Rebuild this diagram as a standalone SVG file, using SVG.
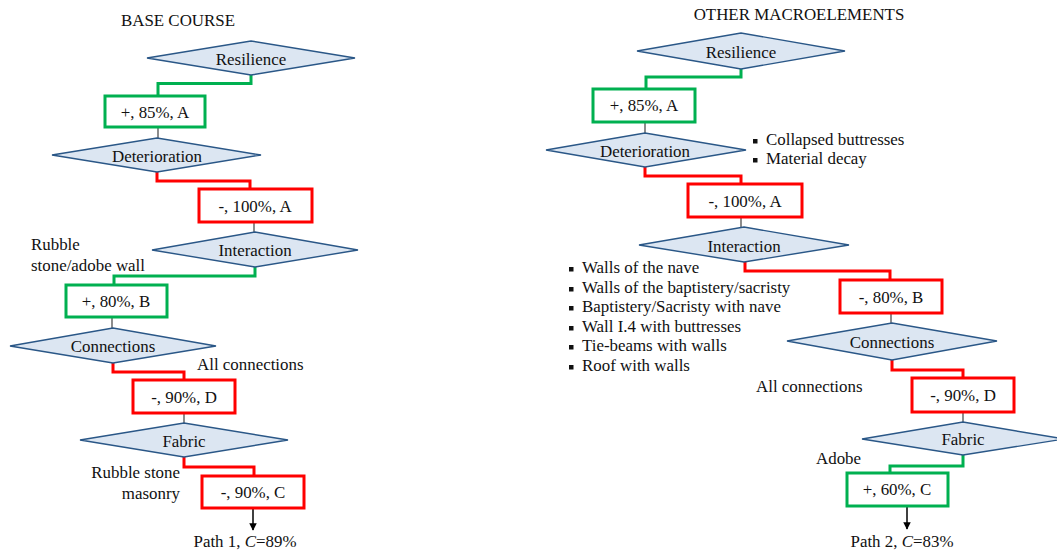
<svg xmlns="http://www.w3.org/2000/svg" width="1057" height="553" viewBox="0 0 1057 553">
<style>
text{font-family:"Liberation Serif","Times New Roman",serif;font-size:16.9px;fill:#111}
.c{text-anchor:middle}
.r{text-anchor:end}
.dia{fill:#DCE6F2;stroke:#2A5787;stroke-width:1.4}
.gb{fill:#fff;stroke:#00B050;stroke-width:3}
.rb{fill:#fff;stroke:#FF0000;stroke-width:3}
.gl{fill:none;stroke:#00B050;stroke-width:3}
.rl{fill:none;stroke:#FF0000;stroke-width:3}
.tl{fill:none;stroke:#404040;stroke-width:1.2}
.ar{fill:none;stroke:#000;stroke-width:1.5}
.bul{fill:#111}
</style>
<defs>
<marker id="ah" viewBox="0 0 10 10" refX="9" refY="5" markerWidth="5" markerHeight="5" orient="auto">
<path d="M0,0 L10,5 L0,10 z" fill="#000"/>
</marker>
</defs>
<text class="c" x="178" y="26">BASE COURSE</text>
<text class="c" x="799" y="20">OTHER MACROELEMENTS</text>
<g id="connectors">
<path class="gl" d="M251,75 V83.5 H158 V96"/>
<path class="tl" d="M158,127 V138"/>
<path class="rl" d="M157,172 V181 H250 V189"/>
<path class="tl" d="M254,222 V232"/>
<path class="gl" d="M255,267 V276 H114 V285"/>
<path class="tl" d="M112,317 V328"/>
<path class="rl" d="M113,363 V372 H184 V380"/>
<path class="tl" d="M184,413 V423"/>
<path class="rl" d="M184,457 V467 H254 V476"/>
<path class="ar" d="M253,508 V530" marker-end="url(#ah)"/>
<path class="gl" d="M741,69 V77 H646 V89"/>
<path class="tl" d="M645,122 V133"/>
<path class="rl" d="M645,167 V176 H741 V184"/>
<path class="tl" d="M741,217 V227"/>
<path class="rl" d="M745,262 V271 H890 V280"/>
<path class="tl" d="M891,313 V323"/>
<path class="rl" d="M892,360 V370 H963 V378"/>
<path class="tl" d="M963,412 V422"/>
<path class="gl" d="M963,455 V466 H890 V473"/>
<path class="ar" d="M907,506 V529" marker-end="url(#ah)"/>
</g>
<g id="l-resilience"><polygon class="dia" points="147,58 251,41 355,58 251,75"/><text class="c" x="251" y="65">Resilience</text></g>
<g id="l-box1"><rect class="gb" x="105" y="96" width="100" height="31"/><text class="c" x="155" y="118">+, 85%, A</text></g>
<g id="l-deterioration"><polygon class="dia" points="52,155 157,138 261,155 157,172"/><text class="c" x="157" y="162">Deterioration</text></g>
<g id="l-box2"><rect class="rb" x="199" y="189" width="113" height="33"/><text class="c" x="255" y="212">-, 100%, A</text></g>
<g id="l-interaction"><polygon class="dia" points="152,250 255,232 358,250 255,267"/><text class="c" x="255" y="256">Interaction</text></g>
<text x="31" y="250">Rubble</text>
<text x="31" y="271">stone/adobe wall</text>
<g id="l-box3"><rect class="gb" x="66" y="285" width="101" height="32"/><text class="c" x="116" y="307">+, 80%, B</text></g>
<g id="l-connections"><polygon class="dia" points="10,346 113,328 216,346 113,363"/><text class="c" x="113" y="352">Connections</text></g>
<text x="197" y="370">All connections</text>
<g id="l-box4"><rect class="rb" x="133" y="380" width="102" height="33"/><text class="c" x="184" y="403">-, 90%, D</text></g>
<g id="l-fabric"><polygon class="dia" points="80,440 184,423 288,440 184,457"/><text class="c" x="184" y="447">Fabric</text></g>
<text class="r" x="180" y="478">Rubble stone</text>
<text class="r" x="180" y="499">masonry</text>
<g id="l-box5"><rect class="rb" x="202" y="476" width="102" height="32"/><text class="c" x="253" y="498">-, 90%, C</text></g>
<text class="c" x="245" y="547">Path 1, <tspan font-style="italic">C</tspan>=89%</text>

<g id="r-resilience"><polygon class="dia" points="637,51 741,33 845,51 741,69"/><text class="c" x="741" y="58">Resilience</text></g>
<g id="r-box1"><rect class="gb" x="593" y="89" width="102" height="33"/><text class="c" x="644" y="111">+, 85%, A</text></g>
<g id="r-deterioration"><polygon class="dia" points="546,150 645,133 746,150 645,167"/><text class="c" x="645" y="157">Deterioration</text></g>
<rect class="bul" x="753" y="139" width="4.5" height="4.5"/><text x="766" y="145">Collapsed buttresses</text>
<rect class="bul" x="753" y="158" width="4.5" height="4.5"/><text x="766" y="164">Material decay</text>
<g id="r-box2"><rect class="rb" x="688" y="184" width="114" height="33"/><text class="c" x="745" y="207">-, 100%, A</text></g>
<g id="r-interaction"><polygon class="dia" points="639,245 744,227 849,245 744,262"/><text class="c" x="744" y="252">Interaction</text></g>
<rect class="bul" x="569" y="267" width="4.5" height="4.5"/><text x="582" y="273">Walls of the nave</text>
<rect class="bul" x="569" y="287" width="4.5" height="4.5"/><text x="582" y="293">Walls of the baptistery/sacristy</text>
<rect class="bul" x="569" y="306" width="4.5" height="4.5"/><text x="582" y="312">Baptistery/Sacristy with nave</text>
<rect class="bul" x="569" y="326" width="4.5" height="4.5"/><text x="582" y="332">Wall I.4 with buttresses</text>
<rect class="bul" x="569" y="345" width="4.5" height="4.5"/><text x="582" y="351">Tie-beams with walls</text>
<rect class="bul" x="569" y="365" width="4.5" height="4.5"/><text x="582" y="371">Roof with walls</text>
<g id="r-box3"><rect class="rb" x="840" y="280" width="102" height="33"/><text class="c" x="891" y="303">-, 80%, B</text></g>
<g id="r-connections"><polygon class="dia" points="787,341 892,323 997,341 892,360"/><text class="c" x="892" y="348">Connections</text></g>
<text x="756" y="392">All connections</text>
<g id="r-box4"><rect class="rb" x="912" y="378" width="102" height="34"/><text class="c" x="963" y="401">-, 90%, D</text></g>
<g id="r-fabric"><polygon class="dia" points="862,439 963,422 1064,439 963,455"/><text class="c" x="963" y="445">Fabric</text></g>
<text x="816" y="464">Adobe</text>
<g id="r-box5"><rect class="gb" x="847" y="473" width="101" height="33"/><text class="c" x="897" y="495">+, 60%, C</text></g>
<text class="c" x="902" y="547">Path 2, <tspan font-style="italic">C</tspan>=83%</text>
</svg>
